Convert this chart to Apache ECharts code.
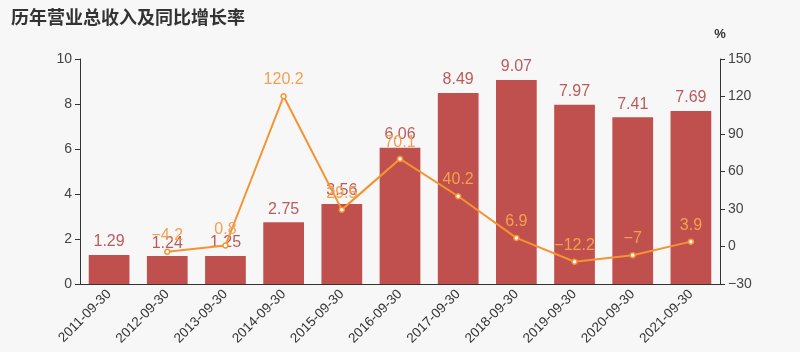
<!DOCTYPE html>
<html><head><meta charset="utf-8">
<script src="https://cdn.jsdelivr.net/npm/echarts@6/dist/echarts.min.js"></script>
<style>html,body{margin:0;padding:0;background:#f7f7f7}#c{width:800px;height:352px}</style>
</head><body><div id="c"></div>
<script>
const categories = ['2011-09-30','2012-09-30','2013-09-30','2014-09-30','2015-09-30','2016-09-30','2017-09-30','2018-09-30','2019-09-30','2020-09-30','2021-09-30'];
const revenue = [1.29,1.24,1.25,2.75,3.56,6.06,8.49,9.07,7.97,7.41,7.69];
const growth = [null,-4.2,0.8,120.2,29.5,70.1,40.2,6.9,-12.2,-7,3.9];
const minus = v => String(v).replace('-', '\u2212');
const chart = echarts.init(document.getElementById('c'));
const axisCommon = {
  axisLine:{show:true,lineStyle:{color:'#333'}},
  axisTick:{show:true,lineStyle:{color:'#333'}},
  axisLabel:{color:'#444',fontSize:14,fontFamily:'Liberation Sans, Arial',formatter:minus},
  splitLine:{show:false}
};
chart.setOption({
  backgroundColor:'#f7f7f7',
  animation:false,
  title:{text:'历年营业总收入及同比增长率',left:6,top:3,textStyle:{fontSize:18,fontWeight:'bold',color:'#333',fontFamily:'Noto Sans CJK SC'}},
  grid:{left:80,right:80,top:59,bottom:68},
  xAxis:{type:'category',data:categories,
    axisLine:{lineStyle:{color:'#333'}},axisTick:{alignWithLabel:false,lineStyle:{color:'#333'}},
    axisLabel:{rotate:45,color:'#333',fontSize:13.5,interval:0,fontFamily:'Liberation Sans, Arial',margin:8}},
  yAxis:[
    Object.assign({type:'value',min:0,max:10,interval:2},axisCommon),
    Object.assign({type:'value',min:-30,max:150,interval:30,name:'%',
      nameTextStyle:{color:'#333',fontSize:13,fontWeight:'bold',padding:[0,0,4,0]},nameGap:14},axisCommon)
  ],
  series:[
    {type:'bar',data:revenue,barWidth:'70%',itemStyle:{color:'#c0504d'},
     label:{show:true,position:'top',color:'#bb5a5c',fontSize:16,fontFamily:'Liberation Sans, Arial'}},
    {type:'line',yAxisIndex:1,data:growth,symbol:'circle',symbolSize:5,
     lineStyle:{color:'#f59331',width:2},itemStyle:{color:'#fff',borderColor:'#f59331',borderWidth:1.5},
     label:{show:true,position:'top',color:'#f5a04e',fontSize:16,fontFamily:'Liberation Sans, Arial',
       formatter:p => minus(p.value)}}
  ]
});
</script></body></html>
